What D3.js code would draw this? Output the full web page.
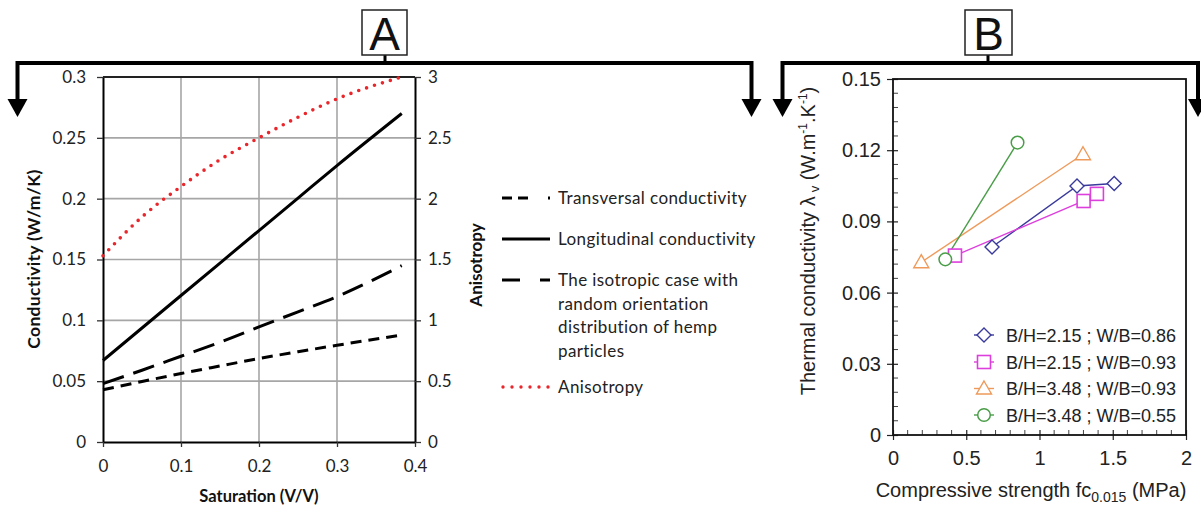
<!DOCTYPE html>
<html>
<head>
<meta charset="utf-8">
<script src="https://cdn.jsdelivr.net/npm/d3@7"></script>
<style>
  html, body { margin: 0; padding: 0; background: #fff; }
  svg { display: block; }
</style>
</head>
<body>
<svg id="chart" width="1201" height="506"></svg>
<script>
// ---- Panel A: conductivity vs saturation ----
const saturation   = [0, 0.05, 0.1, 0.15, 0.2, 0.25, 0.3, 0.383];
const transversal  = [0.043, 0.0497, 0.0563, 0.0625, 0.0686, 0.0742, 0.0795, 0.088];
const longitudinal = [0.067, 0.0937, 0.1204, 0.1471, 0.1738, 0.2005, 0.2272, 0.27];
const isotropic    = [0.048, 0.059, 0.0705, 0.082, 0.0946, 0.107, 0.1195, 0.145];
const anisotropy   = [1.53, 1.85, 2.1, 2.32, 2.5, 2.67, 2.82, 3.0];
const ticksA_x  = [0, 0.1, 0.2, 0.3, 0.4];
const ticksA_y  = [0, 0.05, 0.1, 0.15, 0.2, 0.25, 0.3];
const ticksA_y2 = [0, 0.5, 1, 1.5, 2, 2.5, 3];
const legendA = [
  "Transversal conductivity",
  "Longitudinal conductivity",
  ["The isotropic case with", "random orientation", "distribution of hemp", "particles"],
  "Anisotropy"
];

// ---- Panel B: thermal conductivity vs compressive strength ----
const seriesNamesB = [
  "B/H=2.15 ; W/B=0.86",
  "B/H=2.15 ; W/B=0.93",
  "B/H=3.48 ; W/B=0.93",
  "B/H=3.48 ; W/B=0.55"
];
const strengthD = [0.676, 1.256, 1.51];
const lambdaD   = [0.0792, 0.1049, 0.106];
const strengthS = [0.423, 1.301, 1.392];
const lambdaS   = [0.0756, 0.0986, 0.1016];
const strengthT = [0.193, 1.297];
const lambdaT   = [0.0728, 0.1183];
const strengthC = [0.357, 0.85];
const lambdaC   = [0.074, 0.1232];
const ticksB_x  = [0, 0.5, 1, 1.5, 2];
const ticksB_y  = [0, 0.03, 0.06, 0.09, 0.12, 0.15];

const svg = d3.select("#chart");
const fontA = "Lato, 'Open Sans', sans-serif";
const fontB = "'Liberation Sans', Arial, sans-serif";

// ================= Panel A =================
const xA  = d3.scaleLinear().domain([0, 0.4]).range([103, 415]);
const yA  = d3.scaleLinear().domain([0, 0.3]).range([442, 77]);
const yA2 = d3.scaleLinear().domain([0, 3]).range([442, 77]);

const gA = svg.append("g");

// grid
gA.append("g").selectAll("line.v").data(ticksA_x.slice(1, -1)).join("line")
  .attr("x1", d => xA(d)).attr("x2", d => xA(d))
  .attr("y1", yA(0)).attr("y2", yA(0.3))
  .attr("stroke", "#a6a6a6").attr("stroke-width", 1.6);
gA.append("g").selectAll("line.h").data(ticksA_y.slice(1, -1)).join("line")
  .attr("x1", xA(0)).attr("x2", xA(0.4))
  .attr("y1", d => yA(d)).attr("y2", d => yA(d))
  .attr("stroke", "#a6a6a6").attr("stroke-width", 1.6);

// axes
function styleAxis(g, size) {
  g.selectAll(".domain").attr("stroke", "#000").attr("stroke-width", 2);
  g.selectAll(".tick line").attr("stroke", "#333").attr("stroke-width", 1.3);
  g.selectAll(".tick text").attr("fill", "#222").style("font-family", fontA).style("font-size", size + "px");
}
const axLeftA = gA.append("g").attr("transform", `translate(${xA(0)},0)`)
  .call(d3.axisLeft(yA).tickValues(ticksA_y).tickFormat(d3.format("~g")).tickSize(6).tickPadding(11).tickSizeOuter(0));
styleAxis(axLeftA, 17);
const axRightA = gA.append("g").attr("transform", `translate(${xA(0.4)},0)`)
  .call(d3.axisRight(yA2).tickValues(ticksA_y2).tickFormat(d3.format("~g")).tickSize(6).tickPadding(7).tickSizeOuter(0));
styleAxis(axRightA, 17);
const axBottomA = gA.append("g").attr("transform", `translate(0,${yA(0)})`)
  .call(d3.axisBottom(xA).tickValues(ticksA_x).tickFormat(d3.format("~g")).tickSize(5).tickPadding(13).tickSizeOuter(0));
styleAxis(axBottomA, 17);
// top border
gA.append("line").attr("x1", xA(0)).attr("x2", xA(0.4)).attr("y1", yA(0.3)).attr("y2", yA(0.3))
  .attr("stroke", "#222").attr("stroke-width", 2);

// axis titles
gA.append("text").attr("x", xA(0.2)).attr("y", 502).attr("text-anchor", "middle")
  .style("font-family", fontA).style("font-size", "16.5px").style("font-weight", "bold").attr("fill", "#111")
  .text("Saturation (V/V)");
gA.append("text").attr("transform", "translate(40,259) rotate(-90)").attr("text-anchor", "middle")
  .style("font-family", fontA).style("font-size", "17.5px").style("font-weight", "bold").attr("fill", "#111")
  .style("letter-spacing", "0.3px")
  .text("Conductivity (W/m/K)");
gA.append("text").attr("transform", "translate(482,265) rotate(-90)").attr("text-anchor", "middle")
  .style("font-family", fontA).style("font-size", "17px").style("font-weight", "bold").attr("fill", "#111")
  .text("Anisotropy");

// lines
const lineA = vals => d3.line().x((d, i) => xA(saturation[i])).y(d => yA(d)).curve(d3.curveMonotoneX)(vals);
const lineA2 = vals => d3.line().x((d, i) => xA(saturation[i])).y(d => yA2(d)).curve(d3.curveMonotoneX)(vals);

gA.append("path").attr("d", lineA(longitudinal)).attr("fill", "none")
  .attr("stroke", "#000").attr("stroke-width", 3);
gA.append("path").attr("d", lineA(isotropic)).attr("fill", "none")
  .attr("stroke", "#000").attr("stroke-width", 3).attr("stroke-dasharray", "22,10");
gA.append("path").attr("d", lineA(transversal)).attr("fill", "none")
  .attr("stroke", "#000").attr("stroke-width", 3).attr("stroke-dasharray", "11,7");
gA.append("path").attr("d", lineA2(anisotropy)).attr("fill", "none")
  .attr("stroke", "#e8262b").attr("stroke-width", 3.6).attr("stroke-linecap", "round")
  .attr("stroke-dasharray", "0,8.3");

// legend A
const legA = gA.append("g").style("font-family", fontA).style("font-size", "17px")
  .style("letter-spacing", "0.4px").attr("fill", "#222");
const legRows = [198, 239, 280, 387];
const legStyles = [
  { dash: "10,6,10,20,3", color: "#000", w: 3, cap: "butt" },
  { dash: null, color: "#000", w: 3, cap: "butt" },
  { dash: "18,20,10", color: "#000", w: 3, cap: "butt" },
  { dash: "0,9", color: "#e8262b", w: 3.4, cap: "round" }
];
legendA.forEach((lbl, i) => {
  const y = legRows[i];
  const st = legStyles[i];
  const x0 = i === 3 ? 503 : 502;
  const l = legA.append("line").attr("x1", x0).attr("x2", 550).attr("y1", y).attr("y2", y)
    .attr("stroke", st.color).attr("stroke-width", st.w).attr("stroke-linecap", st.cap);
  if (st.dash) l.attr("stroke-dasharray", st.dash);
  const lines = Array.isArray(lbl) ? lbl : [lbl];
  const t = legA.append("text").attr("x", 558).attr("y", y + 6);
  lines.forEach((s, j) => t.append("tspan").attr("x", 558).attr("dy", j === 0 ? 0 : 23.7).text(s));
});

// ================= Panel B =================
const xB = d3.scaleLinear().domain([0, 2]).range([893, 1186]);
const yB = d3.scaleLinear().domain([0, 0.15]).range([435, 79]);
const gB = svg.append("g");

// minor ticks (inside)
gB.append("g").selectAll("line").data(d3.range(1, 25).filter(i => i % 5 !== 0).map(i => i * 0.006)).join("line")
  .attr("x1", xB(0)).attr("x2", xB(0) + 5).attr("y1", d => yB(d)).attr("y2", d => yB(d))
  .attr("stroke", "#444").attr("stroke-width", 1);
gB.append("g").selectAll("line").data(d3.range(1, 20).filter(i => i % 5 !== 0).map(i => i * 0.1)).join("line")
  .attr("x1", d => xB(d)).attr("x2", d => xB(d)).attr("y1", yB(0)).attr("y2", yB(0) - 5)
  .attr("stroke", "#444").attr("stroke-width", 1);

function styleAxisB(g) {
  g.selectAll(".domain").remove();
  g.selectAll(".tick line").attr("stroke", "#222").attr("stroke-width", 1.2);
  g.selectAll(".tick text").attr("fill", "#222").style("font-family", fontB).style("font-size", "20px");
}
const axLeftB = gB.append("g").attr("transform", `translate(${xB(0)},0)`)
  .call(d3.axisLeft(yB).tickValues(ticksB_y).tickFormat(d => d === 0 ? "0" : d3.format(".2f")(d))
    .tickSizeInner(-5).tickPadding(12));
styleAxisB(axLeftB);
axLeftB.selectAll(".tick").append("line").attr("x1", -6).attr("x2", 0).attr("stroke", "#222").attr("stroke-width", 1.2);
const axBottomB = gB.append("g").attr("transform", `translate(0,${yB(0)})`)
  .call(d3.axisBottom(xB).tickValues(ticksB_x).tickFormat(d3.format("~g")).tickSizeInner(-5).tickPadding(16));
styleAxisB(axBottomB);
axBottomB.selectAll(".tick").append("line").attr("y1", 0).attr("y2", 5).attr("stroke", "#222").attr("stroke-width", 1.2);

// frame
gB.append("rect").attr("x", xB(0)).attr("y", yB(0.15)).attr("width", xB(2) - xB(0)).attr("height", yB(0) - yB(0.15))
  .attr("fill", "none").attr("stroke", "#111").attr("stroke-width", 1.8);

// titles
const xt = gB.append("text").attr("x", 1031).attr("y", 497).attr("text-anchor", "middle")
  .style("font-family", fontB).style("font-size", "20px").attr("fill", "#222");
xt.append("tspan").text("Compressive strength fc");
xt.append("tspan").attr("dy", 5).style("font-size", "14px").text("0.015");
xt.append("tspan").attr("dy", -5).text(" (MPa)");

const yt = gB.append("text").attr("transform", "translate(815,241) rotate(-90)").attr("text-anchor", "middle")
  .style("font-family", fontB).style("font-size", "20px").attr("fill", "#222");
yt.append("tspan").text("Thermal conductivity λ");
yt.append("tspan").attr("dx", 4).attr("dy", 4).style("font-size", "13px").text("v");
yt.append("tspan").attr("dy", -4).text(" (W.m");
yt.append("tspan").attr("dy", -8).style("font-size", "12px").text("-1");
yt.append("tspan").attr("dy", 8).text(".K");
yt.append("tspan").attr("dy", -8).style("font-size", "12px").text("-1");
yt.append("tspan").attr("dy", 8).text(")");

// series
const seriesB = [
  { name: seriesNamesB[0], xs: strengthD, ys: lambdaD, color: "#3a3a9c", shape: "diamond" },
  { name: seriesNamesB[1], xs: strengthS, ys: lambdaS, color: "#dd3fdd", shape: "square" },
  { name: seriesNamesB[2], xs: strengthT, ys: lambdaT, color: "#ee9a5a", shape: "triangle" },
  { name: seriesNamesB[3], xs: strengthC, ys: lambdaC, color: "#4a9d48", shape: "circle" }
];
function marker(g, shape, cx, cy, color) {
  if (shape === "circle") {
    g.append("circle").attr("cx", cx).attr("cy", cy).attr("r", 6.3)
      .attr("fill", "#fff").attr("stroke", color).attr("stroke-width", 1.5);
  } else if (shape === "square") {
    g.append("rect").attr("x", cx - 6.5).attr("y", cy - 6.5).attr("width", 13).attr("height", 13)
      .attr("fill", "#fff").attr("stroke", color).attr("stroke-width", 1.6);
  } else if (shape === "diamond") {
    g.append("path").attr("d", `M${cx},${cy - 7}L${cx + 7},${cy}L${cx},${cy + 7}L${cx - 7},${cy}Z`)
      .attr("fill", "#fff").attr("stroke", color).attr("stroke-width", 1.4);
  } else {
    g.append("path").attr("d", `M${cx},${cy - 7.5}L${cx + 7.5},${cy + 5.5}L${cx - 7.5},${cy + 5.5}Z`)
      .attr("fill", "#fff").attr("stroke", color).attr("stroke-width", 1.4);
  }
}
seriesB.forEach(s => {
  const pts = s.xs.map((x, i) => [xB(x), yB(s.ys[i])]);
  gB.append("path").attr("d", d3.line()(pts)).attr("fill", "none")
    .attr("stroke", s.color).attr("stroke-width", 1.4);
});
seriesB.forEach(s => {
  s.xs.forEach((x, i) => marker(gB, s.shape, xB(x), yB(s.ys[i]), s.color));
});

// legend B
const legBRows = [335, 362, 388.5, 415];
seriesB.forEach((s, i) => {
  const y = legBRows[i];
  gB.append("line").attr("x1", 974).attr("x2", 994).attr("y1", y).attr("y2", y)
    .attr("stroke", s.color).attr("stroke-width", 1.4);
  marker(gB, s.shape, 984, y, s.color);
  gB.append("text").attr("x", 1006).attr("y", y + 6.5)
    .style("font-family", fontB).style("font-size", "18px").attr("fill", "#222").text(s.name);
});

// ================= Brackets with labels =================
function bracket(xl, xr, xs, label, boxX, boxW) {
  const g = svg.append("g");
  const yTop = 63;
  g.append("path").attr("d", `M${xl},100V${yTop}H${xr}V100`).attr("fill", "none")
    .attr("stroke", "#000").attr("stroke-width", 4).attr("stroke-linejoin", "miter");
  [xl, xr].forEach(x => g.append("path").attr("d", `M${x - 10},99L${x + 10},99L${x},117Z`).attr("fill", "#000"));
  g.append("line").attr("x1", xs).attr("x2", xs).attr("y1", 55).attr("y2", yTop).attr("stroke", "#000").attr("stroke-width", 3);
  g.append("rect").attr("x", boxX).attr("y", 10).attr("width", boxW).attr("height", 45)
    .attr("fill", "#fff").attr("stroke", "#222").attr("stroke-width", 1.5);
  g.append("text").attr("x", boxX + boxW / 2).attr("y", 50).attr("text-anchor", "middle")
    .style("font-family", fontB).style("font-size", "46px").attr("fill", "#111").text(label);
}
bracket(17.5, 751.5, 385, "A", 362, 45);
bracket(782.5, 1198, 988, "B", 965, 47);
</script>
</body>
</html>
